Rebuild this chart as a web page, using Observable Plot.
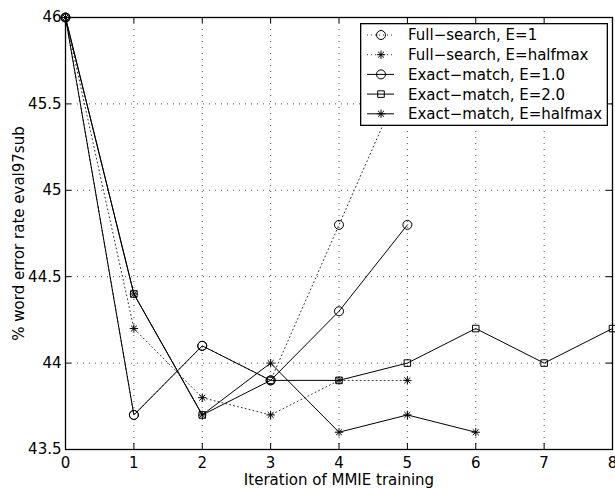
<!DOCTYPE html>
<html><head><meta charset="utf-8">
<script src="https://cdn.jsdelivr.net/npm/d3@7"></script>
<script src="https://cdn.jsdelivr.net/npm/@observablehq/plot@0.6"></script>
<style>
html,body{margin:0;padding:0;background:#fff;}
#chart{position:relative;width:615px;height:489px;font-family:"DejaVu Sans",sans-serif;}
#legend{position:absolute;left:360px;top:23px;}
</style></head><body>
<div id="chart"></div>
<script>
// ---- data ----
const fullSearchE1      = [46.0, 43.7, 44.1, 43.9, 44.8, 45.7];
const fullSearchHalfmax = [46.0, 44.2, 43.8, 43.7, 43.9, 43.9];
const exactMatchE1      = [46.0, 43.7, 44.1, 43.9, 44.3, 44.8];
const exactMatchE2      = [46.0, 44.4, 43.7, 43.9, 43.9, 44.0, 44.2, 44.0, 44.2];
const exactMatchHalfmax = [46.0, 44.4, 43.7, 44.0, 43.6, 43.7, 43.6];
const seriesNames = ["Full−search, E=1", "Full−search, E=halfmax", "Exact−match, E=1.0", "Exact−match, E=2.0", "Exact−match, E=halfmax"];
const xTicks = [0, 1, 2, 3, 4, 5, 6, 7, 8];
const yTicks = [43.5, 44, 44.5, 45, 45.5, 46];
const xGrid = [1, 2, 3, 4, 5, 6, 7];
const yGrid = [44, 44.5, 45, 45.5];
const xLabel = "Iteration of MMIE training";
const yLabel = "% word error rate eval97sub";

// ---- layout ----
const W = 615, H = 489, mL = 65, mR = 3, mT = 17, mB = 40;
const innerW = W - mL - mR, innerH = H - mT - mB, tick = 6;

// ---- styles ----
const asterisk8 = {
  draw(ctx, size) {
    const r = Math.sqrt(size / Math.PI), d = r * Math.SQRT1_2;
    ctx.moveTo(-r, 0); ctx.lineTo(r, 0);
    ctx.moveTo(0, -r); ctx.lineTo(0, r);
    ctx.moveTo(-d, -d); ctx.lineTo(d, d);
    ctx.moveTo(-d, d); ctx.lineTo(d, -d);
  }
};
const seriesValues = [fullSearchE1, fullSearchHalfmax, exactMatchE1, exactMatchE2, exactMatchHalfmax];
const seriesStyle = [
  {dash: "1,3", stroke: "#333", symbol: "circle", r: 4.5},
  {dash: "1,3", stroke: "#333", symbol: asterisk8, r: 4.2},
  {dash: null, stroke: "#000", symbol: "circle", r: 4.5},
  {dash: null, stroke: "#000", symbol: "square", r: 3.7},
  {dash: null, stroke: "#000", symbol: asterisk8, r: 4.2}
];
const tables = seriesValues.map((vals, i) => vals.map((v, j) => ({series: seriesNames[i], x: xTicks[j], y: v})));

const marks = [
  Plot.gridX(xGrid, {stroke: "#555", strokeOpacity: 1, strokeDasharray: "1,5"}),
  Plot.gridY(yGrid, {stroke: "#555", strokeOpacity: 1, strokeDasharray: "1,5"})
];
tables.forEach((t, i) => {
  const s = seriesStyle[i];
  marks.push(Plot.line(t, {x: "x", y: "y", stroke: s.stroke, strokeWidth: 1, strokeDasharray: s.dash}));
  marks.push(Plot.dot(t, {x: "x", y: "y", symbol: s.symbol, r: s.r, stroke: "#000", fill: "none", strokeWidth: 1}));
});
marks.push(
  // inward tick marks on all four sides
  Plot.ruleX(xTicks, {x: d => d, stroke: "#000", strokeWidth: 1, insetTop: innerH - tick}),
  Plot.ruleX(xTicks, {x: d => d, stroke: "#000", strokeWidth: 1, insetBottom: innerH - tick}),
  Plot.ruleY(yTicks, {y: d => d, stroke: "#000", strokeWidth: 1, insetRight: innerW - tick}),
  Plot.ruleY(yTicks, {y: d => d, stroke: "#000", strokeWidth: 1, insetLeft: innerW - tick}),
  Plot.frame({stroke: "#000", strokeWidth: 1.3}),
  Plot.axisX(xTicks, {anchor: "bottom", tickSize: 0, tickPadding: 8, tickFormat: d => String(d),
    label: xLabel, labelAnchor: "center", labelArrow: "none", labelOffset: 35}),
  Plot.axisY(yTicks, {anchor: "left", tickSize: 0, tickPadding: 4, tickFormat: d => String(d),
    label: yLabel, labelAnchor: "center", labelArrow: "none", labelOffset: 52})
);

const chart = Plot.plot({
  width: W, height: H,
  marginLeft: mL, marginRight: mR, marginTop: mT, marginBottom: mB,
  x: {domain: [0, 8]},
  y: {domain: [43.5, 46]},
  style: {fontFamily: "DejaVu Sans, sans-serif", fontSize: "15px", color: "#000", background: "#fff"},
  marks
});
const host = document.getElementById("chart");
host.appendChild(chart);

// ---- legend (overlaid in plot area, opaque) ----
const lw = 248, lh = 103;
const leg = d3.create("svg").attr("id", "legend").attr("width", lw).attr("height", lh)
  .style("font-family", "DejaVu Sans, sans-serif").style("font-size", "15px");
leg.append("rect").attr("x", 0.65).attr("y", 0.65).attr("width", lw - 1.3).attr("height", lh - 1.3)
  .attr("fill", "#fff").attr("stroke", "#000").attr("stroke-width", 1.3);
seriesNames.forEach((name, i) => {
  const s = seriesStyle[i];
  const cy = 12 + i * 19.7;
  leg.append("line").attr("x1", 7).attr("x2", 34).attr("y1", cy).attr("y2", cy)
    .attr("stroke", s.stroke).attr("stroke-width", 1).attr("stroke-dasharray", s.dash);
  const sym = typeof s.symbol === "string" ? (s.symbol === "circle" ? d3.symbolCircle : d3.symbolSquare) : s.symbol;
  leg.append("path").attr("transform", `translate(21,${cy})`)
    .attr("d", d3.symbol(sym, Math.PI * s.r * s.r)())
    .attr("fill", "none").attr("stroke", "#000").attr("stroke-width", 1);
  leg.append("text").attr("x", 48).attr("y", cy).attr("dy", "0.36em").attr("fill", "#000").text(name);
});
host.appendChild(leg.node());
</script>
</body></html>
